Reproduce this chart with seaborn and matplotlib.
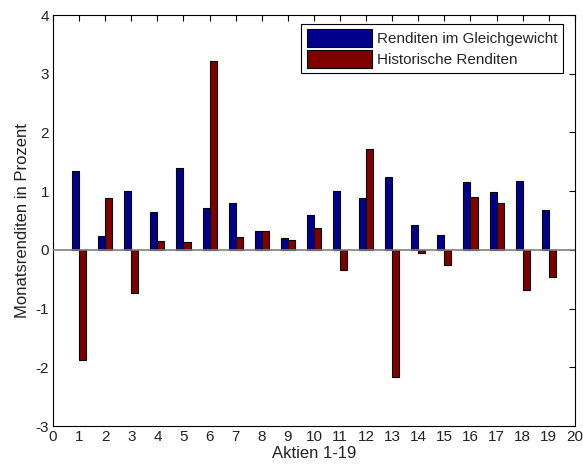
import matplotlib
matplotlib.use("Agg")
import matplotlib.pyplot as plt
import seaborn as sns
import pandas as pd
from matplotlib.patches import Patch

aktien = list(range(1, 20))
gleichgewicht = [1.35, 0.23, 1.00, 0.64, 1.40, 0.72, 0.80, 0.33, 0.20, 0.60,
                 1.00, 0.88, 1.25, 0.43, 0.25, 1.15, 0.98, 1.17, 0.68]
historisch = [-1.88, 0.88, -0.74, 0.15, 0.13, 3.21, 0.22, 0.33, 0.165, 0.37,
              -0.35, 1.715, -2.16, -0.045, -0.25, 0.90, 0.80, -0.68, -0.47]
serien = ["Renditen im Gleichgewicht", "Historische Renditen"]
farben = ["#00008F", "#800000"]

df = pd.DataFrame({
    "Aktie": aktien * 2,
    "Rendite": gleichgewicht + historisch,
    "Serie": [serien[0]] * len(aktien) + [serien[1]] * len(aktien),
})

sns.set_style("white")
plt.rcParams["font.family"] = ["Liberation Sans", "DejaVu Sans"]
plt.rcParams["axes.unicode_minus"] = False

fig = plt.figure(figsize=(5.83, 4.71), dpi=100)
ax = fig.add_axes([0.091, 0.0955, 0.895, 0.8725])

sns.barplot(data=df, x="Aktie", y="Rendite", hue="Serie", hue_order=serien,
            palette=farben, native_scale=True, width=0.54, dodge=True,
            edgecolor="black", linewidth=0.8, saturation=1, ax=ax, legend=False,
            errorbar=None)

ax.axhline(0, color="#808080", lw=1.2, zorder=5)
ax.set_xlim(0, 20)
ax.set_ylim(-3, 4)
ax.set_xticks(range(0, 21))
ax.set_yticks(range(-3, 5))
ax.tick_params(direction="in", top=True, right=True, length=4, width=0.8,
               labelsize=11, colors="black", labelcolor="#222222", pad=3)
for s in ax.spines.values():
    s.set_visible(True)
    s.set_color("black")
    s.set_linewidth(0.8)
ax.set_xlabel("Aktien 1-19", fontsize=12, color="#222222", labelpad=1)
ax.set_ylabel("Monatsrenditen in Prozent", fontsize=12, color="#222222", labelpad=4)

handles = [Patch(facecolor=farben[0], edgecolor="black", lw=0.8),
           Patch(facecolor=farben[1], edgecolor="black", lw=0.8)]
leg = ax.legend(handles, serien, loc="upper right", bbox_to_anchor=(0.977, 0.978),
                fancybox=False, framealpha=1, edgecolor="black", fontsize=11,
                handlelength=4.3, handleheight=1.4, handletextpad=0.3,
                labelspacing=0.2, borderpad=0.35, borderaxespad=0)
leg.get_frame().set_linewidth(0.8)

fig.savefig("out.png", dpi=100)
